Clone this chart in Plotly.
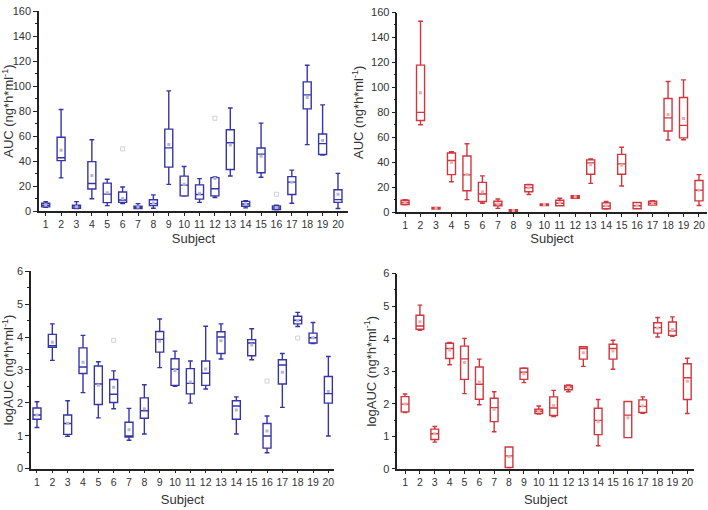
import plotly.graph_objects as go

subjects = list(range(1, 21))
tick_labels = [str(s) for s in subjects]

# Panel A: AUC (blue)
auc_b_low = [3.1, 26.6, 2.0, 9.9, 4.4, 6.0, 2.0, 2.3, 21.4, 12.0, 7.0, 10.9, 28.1, 2.6, 27.1, 1.0, 6.3, 53.2, 44.8, 2.1]
auc_b_q1 = [3.4, 40.4, 2.2, 17.7, 6.8, 7.0, 2.1, 4.4, 35.2, 12.2, 9.6, 12.2, 33.3, 3.9, 30.7, 1.3, 13.3, 81.8, 45.3, 7.0]
auc_b_med = [4.7, 42.7, 3.4, 22.1, 13.6, 8.9, 3.1, 6.0, 50.6, 20.8, 13.3, 17.9, 54.7, 5.7, 45.6, 2.6, 23.2, 93.0, 54.0, 9.2]
auc_b_q3 = [6.3, 59.1, 4.7, 39.6, 22.4, 15.3, 3.9, 9.1, 65.6, 28.0, 21.0, 26.8, 65.1, 7.8, 50.5, 4.1, 27.6, 103.4, 61.7, 17.1]
auc_b_high = [7.6, 81.3, 7.6, 57.1, 25.5, 19.3, 6.0, 13.0, 96.2, 35.7, 26.0, 27.3, 82.5, 8.3, 70.4, 4.7, 32.8, 116.7, 85.0, 30.2]
auc_b_mean = [5.0, 48.7, 3.5, 28.4, 14.6, 10.0, 3.2, 6.5, 53.2, 21.4, 14.3, 26.0, 52.9, 5.8, 43.8, 2.8, 23.0, 91.0, 56.5, 13.5]
auc_b_out_x = [6, 12, 16]
auc_b_out_y = [49.8, 74.3, 13.5]

# Panel B: AUC (red)
auc_r_low = [5.7, 70.0, 2.3, 24.3, 9.9, 7.0, 2.9, 0.5, 14.1, 5.2, 5.0, 11.0, 23.0, 2.3, 20.9, 2.6, 5.5, 57.7, 58.0, 5.2]
auc_r_q1 = [6.0, 73.4, 2.3, 30.0, 17.0, 8.4, 5.0, 0.5, 16.2, 5.2, 5.0, 11.0, 30.3, 2.6, 30.3, 2.6, 5.5, 65.0, 59.5, 8.9]
auc_r_med = [7.6, 79.9, 3.1, 41.3, 29.8, 14.4, 6.3, 1.3, 19.6, 6.0, 7.0, 12.3, 39.4, 4.7, 38.6, 5.0, 7.0, 75.5, 69.5, 17.5]
auc_r_q3 = [9.4, 117.8, 3.7, 47.3, 44.9, 23.8, 8.6, 1.8, 21.9, 6.5, 9.4, 13.1, 41.8, 7.3, 46.2, 7.6, 8.6, 91.1, 91.9, 25.3]
auc_r_high = [9.9, 153.0, 3.7, 48.3, 54.8, 29.0, 10.4, 1.8, 22.2, 6.5, 11.0, 13.1, 42.6, 8.4, 52.0, 7.6, 9.0, 104.7, 106.0, 30.0]
auc_r_mean = [7.6, 95.6, 3.0, 40.0, 30.0, 16.2, 6.5, 1.2, 19.5, 6.0, 7.5, 12.3, 38.0, 5.0, 37.6, 5.0, 7.0, 78.3, 75.0, 17.5]

# Panel C: logAUC (blue)
log_b_low = [1.25, 3.29, 0.98, 2.31, 1.54, 1.82, 0.86, 1.05, 3.07, 2.50, 1.99, 2.42, 3.33, 1.05, 3.31, 0.48, 1.86, 4.32, 3.80, 0.99]
log_b_q1 = [1.50, 3.69, 1.04, 2.89, 1.95, 2.01, 0.96, 1.53, 3.54, 2.53, 2.27, 2.53, 3.50, 1.50, 3.43, 0.62, 2.57, 4.40, 3.82, 1.99]
log_b_med = [1.63, 3.74, 1.37, 3.09, 2.57, 2.26, 0.98, 1.76, 3.93, 3.02, 2.59, 2.90, 4.00, 1.90, 3.82, 0.99, 3.15, 4.51, 3.98, 2.28]
log_b_q3 = [1.84, 4.08, 1.63, 3.67, 3.12, 2.71, 1.41, 2.15, 4.17, 3.34, 3.04, 3.27, 4.16, 2.06, 3.92, 1.37, 3.31, 4.63, 4.12, 2.80]
log_b_high = [2.03, 4.40, 2.06, 4.05, 3.25, 2.97, 1.83, 2.55, 4.55, 3.57, 3.27, 4.33, 4.40, 2.18, 4.25, 1.60, 3.50, 4.75, 4.44, 3.41]
log_b_mean = [1.63, 3.84, 1.38, 3.23, 2.53, 2.47, 1.18, 1.82, 3.87, 2.98, 2.63, 3.03, 3.89, 1.78, 3.76, 1.14, 2.93, 4.50, 3.98, 2.34]
log_b_out_x = [6, 16, 18]
log_b_out_y = [3.90, 2.66, 3.97]

# Panel D: logAUC (red)
log_r_low = [1.73, 4.26, 0.82, 3.20, 2.31, 1.97, 1.14, 0.03, 2.65, 1.68, 1.61, 2.37, 3.15, 0.71, 3.06, 0.96, 1.71, 4.05, 4.07, 1.70]
log_r_q1 = [1.75, 4.29, 0.90, 3.39, 2.75, 2.14, 1.45, 0.04, 2.75, 1.70, 1.64, 2.43, 3.37, 1.05, 3.37, 0.96, 1.73, 4.17, 4.10, 2.13]
log_r_med = [1.99, 4.39, 1.08, 3.70, 3.38, 2.60, 1.88, 0.40, 2.97, 1.77, 1.87, 2.51, 3.70, 1.49, 3.70, 1.65, 1.92, 4.34, 4.24, 2.80]
log_r_q3 = [2.22, 4.72, 1.22, 3.86, 3.77, 3.13, 2.17, 0.67, 3.09, 1.83, 2.21, 2.56, 3.75, 1.86, 3.83, 2.07, 2.12, 4.49, 4.51, 3.23]
log_r_high = [2.30, 5.03, 1.30, 3.88, 4.01, 3.37, 2.37, 0.67, 3.10, 1.93, 2.41, 2.58, 3.75, 2.13, 3.95, 2.07, 2.21, 4.65, 4.67, 3.40]
log_r_mean = [1.99, 4.52, 1.08, 3.65, 3.27, 2.67, 1.83, 0.37, 2.92, 1.77, 1.95, 2.50, 3.57, 1.45, 3.62, 1.57, 1.93, 4.33, 4.28, 2.69]

BLUE = "#3535a8"
RED = "#d0363c"
FONT = "Liberation Sans, Arial, sans-serif"

fig = go.Figure()

panels = [
    dict(lo=auc_b_low, q1=auc_b_q1, med=auc_b_med, q3=auc_b_q3, hi=auc_b_high, mean=auc_b_mean,
         ox=auc_b_out_x, oy=auc_b_out_y, color=BLUE, mcolor="#b4b4d8",
         xd=[0.0551, 0.4915], yd=[0.5882, 0.9896], xr=[0.565, 20.65], yr=[0, 160], dt=20,
         title="AUC (ng*h*ml<sup>-1</sup>)", xs=4),
    dict(lo=auc_r_low, q1=auc_r_q1, med=auc_r_med, q3=auc_r_q3, hi=auc_r_high, mean=auc_r_mean,
         ox=[], oy=[], color=RED, mcolor="#e8b0b0",
         xd=[0.5612, 0.9982], yd=[0.5863, 0.9869], xr=[0.5, 20.5], yr=[0, 160], dt=20,
         title="AUC (ng*h*ml<sup>-1</sup>)", xs=0),
    dict(lo=log_b_low, q1=log_b_q1, med=log_b_med, q3=log_b_q3, hi=log_b_high, mean=log_b_mean,
         ox=log_b_out_x, oy=log_b_out_y, color=BLUE, mcolor="#b4b4d8",
         xd=[0.0438, 0.4718], yd=[0.0712, 0.4673], xr=[0.61, 20.37], yr=[0, 6], dt=1,
         title="logAUC (ng*h*ml<sup>-1</sup>)", xs=8),
    dict(lo=log_r_low, q1=log_r_q1, med=log_r_med, q3=log_r_q3, hi=log_r_high, mean=log_r_mean,
         ox=[], oy=[], color=RED, mcolor="#e8b0b0",
         xd=[0.5612, 0.9802], yd=[0.0706, 0.4627], xr=[0.48, 20.45], yr=[0, 6], dt=1,
         title="logAUC (ng*h*ml<sup>-1</sup>)", xs=8),
]

for i, p in enumerate(panels, start=1):
    xa = "x" if i == 1 else f"x{i}"
    ya = "y" if i == 1 else f"y{i}"
    fig.add_trace(go.Box(
        x=subjects, q1=p["q1"], median=p["med"], q3=p["q3"],
        lowerfence=p["lo"], upperfence=p["hi"],
        width=0.52, whiskerwidth=0.6,
        line=dict(color=p["color"], width=1.4),
        fillcolor="rgba(255,255,255,0)",
        boxpoints=False, showlegend=False,
        xaxis=xa, yaxis=ya,
    ))
    fig.add_trace(go.Scatter(
        x=subjects, y=p["mean"], mode="markers",
        marker=dict(symbol="square", size=3, color=p["mcolor"]),
        showlegend=False, xaxis=xa, yaxis=ya,
    ))
    if p["ox"]:
        fig.add_trace(go.Scatter(
            x=p["ox"], y=p["oy"], mode="markers",
            marker=dict(symbol="square-open", size=4, color="#cfcfdf"),
            showlegend=False, xaxis=xa, yaxis=ya,
        ))
    axis_common = dict(showline=True, linecolor="#222", linewidth=1.5, ticks="outside",
                       tickcolor="#222", tickwidth=1.2, showgrid=False, zeroline=False)
    xname = "xaxis" if i == 1 else f"xaxis{i}"
    yname = "yaxis" if i == 1 else f"yaxis{i}"
    fig.update_layout(**{
        xname: dict(domain=p["xd"], range=p["xr"], anchor=ya, tickmode="array",
                    tickvals=subjects, ticktext=tick_labels, ticklen=3,
                    tickfont=dict(family=FONT, size=10.5, color="#333"),
                    title=dict(text="Subject", font=dict(family=FONT, size=13, color="#333"),
                               standoff=p["xs"]),
                    **axis_common),
        yname: dict(domain=p["yd"], range=p["yr"], anchor=xa, dtick=p["dt"], ticklen=4,
                    tickfont=dict(family=FONT, size=11, color="#333"),
                    minor=dict(dtick=p["dt"] / 2, ticks="outside", ticklen=2, tickcolor="#222"),
                    title=dict(text=p["title"], font=dict(family=FONT, size=13, color="#333"), standoff=4),
                    **axis_common),
    })

fig.update_layout(
    width=708, height=510,
    margin=dict(l=0, r=0, t=0, b=0),
    plot_bgcolor="white", paper_bgcolor="white",
    hovermode=False,
)

fig.write_html("out.html", config={"displayModeBar": False},
               post_script="document.body.style.margin='0';document.body.style.overflow='hidden';")
